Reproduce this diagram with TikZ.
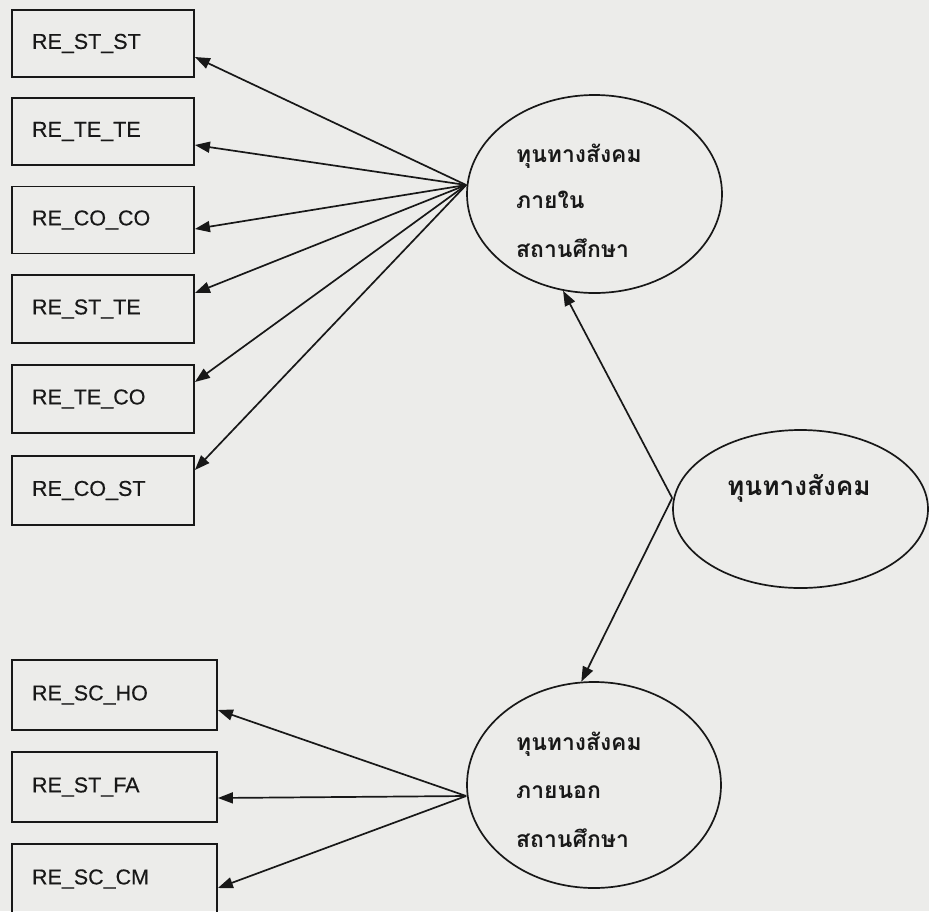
\documentclass[tikz,border=0pt]{standalone}
\usepackage{fontspec}
\setmainfont[FakeBold=0.3]{Liberation Sans}
\newfontfamily\thaifont[Script=Thai]{Loma}
\usetikzlibrary{arrows.meta,shapes.geometric}
\definecolor{paper}{RGB}{236,236,234}
\definecolor{ink}{RGB}{24,24,24}

\begin{document}
\begin{tikzpicture}[x=1pt,y=-1pt,
  obs/.style={draw=ink, line width=1.8pt, rectangle, inner xsep=20pt, inner ysep=0pt,
    text width=#1, align=left, font=\fontsize{21.5}{24}\selectfont, text=ink},
  lat/.style={draw=ink, line width=1.7pt, ellipse, inner sep=0pt},
  thai/.style={font=\thaifont\fontsize{22.9}{26}\selectfont\bfseries, text=ink, anchor=base west, inner sep=0pt},
  link/.style={draw=ink, line width=1.7pt, -{Triangle[length=15pt,width=11pt]}}
]
% page
\fill[paper] (0,0) rectangle (929,911);
\useasboundingbox (0,0) rectangle (929,911);

% indicators of the inner construct
\node[obs=142pt, minimum height=67pt] (b1) at (103,43.5)  {RE\_ST\_ST};
\node[obs=142pt, minimum height=67pt] (b2) at (103,131.5) {RE\_TE\_TE};
\node[obs=142pt, minimum height=67pt] (b3) at (103,220)   {RE\_CO\_CO};
\node[obs=142pt, minimum height=68pt] (b4) at (103,309)   {RE\_ST\_TE};
\node[obs=142pt, minimum height=68pt] (b5) at (103,399)   {RE\_TE\_CO};
\node[obs=142pt, minimum height=69pt] (b6) at (103,490.5) {RE\_CO\_ST};

% indicators of the outer construct
\node[obs=165pt, minimum height=70pt] (b7) at (114.5,695) {RE\_SC\_HO};
\node[obs=165pt, minimum height=70pt] (b8) at (114.5,787) {RE\_ST\_FA};
\node[obs=165pt, minimum height=70pt] (b9) at (114.5,879) {RE\_SC\_CM};

% latent variables
\node[lat, minimum width=255pt, minimum height=198pt] (e1) at (594.5,194) {};
\node[lat, minimum width=255pt, minimum height=158pt] (e2) at (800.5,509) {};
\node[lat, minimum width=254pt, minimum height=206pt] (e3) at (594,785) {};

\node[thai] (e1a) at (516,162) {ทุนทางสังคม};
\node[thai] (e1b) at (516,208) {ภายใน};
\node[thai] (e1c) at (516,257) {สถานศึกษา};

\node[thai, font=\thaifont\fontsize{26.2}{30}\selectfont\bfseries] (e2a) at (727,495) {ทุนทางสังคม};

\node[thai] (e3a) at (516,750) {ทุนทางสังคม};
\node[thai] (e3b) at (516,798) {ภายนอก};
\node[thai] (e3c) at (516,847) {สถานศึกษา};

% loadings
\draw[link] ([yshift=9pt]e1.west) -- ([yshift=-13.5pt]b1.east);
\draw[link] ([yshift=9pt]e1.west) -- ([yshift=-13.5pt]b2.east);
\draw[link] ([yshift=9pt]e1.west) -- ([yshift=-9pt]b3.east);
\draw[link] ([yshift=9pt]e1.west) -- ([yshift=16pt]b4.east);
\draw[link] ([yshift=9pt]e1.west) -- ([yshift=17pt]b5.east);
\draw[link] ([yshift=9pt]e1.west) -- ([yshift=20.5pt]b6.east);

\draw[link] ([yshift=-11pt]e3.west) -- ([yshift=-15pt]b7.east);
\draw[link] ([yshift=-11pt]e3.west) -- ([yshift=-11pt]b8.east);
\draw[link] ([yshift=-11pt]e3.west) -- ([yshift=-9pt]b9.east);

% second-order paths
\draw[link] ([yshift=11pt]e2.west) -- (e1.252);
\draw[link] ([yshift=11pt]e2.west) -- (e3.97);
\end{tikzpicture}
\end{document}
